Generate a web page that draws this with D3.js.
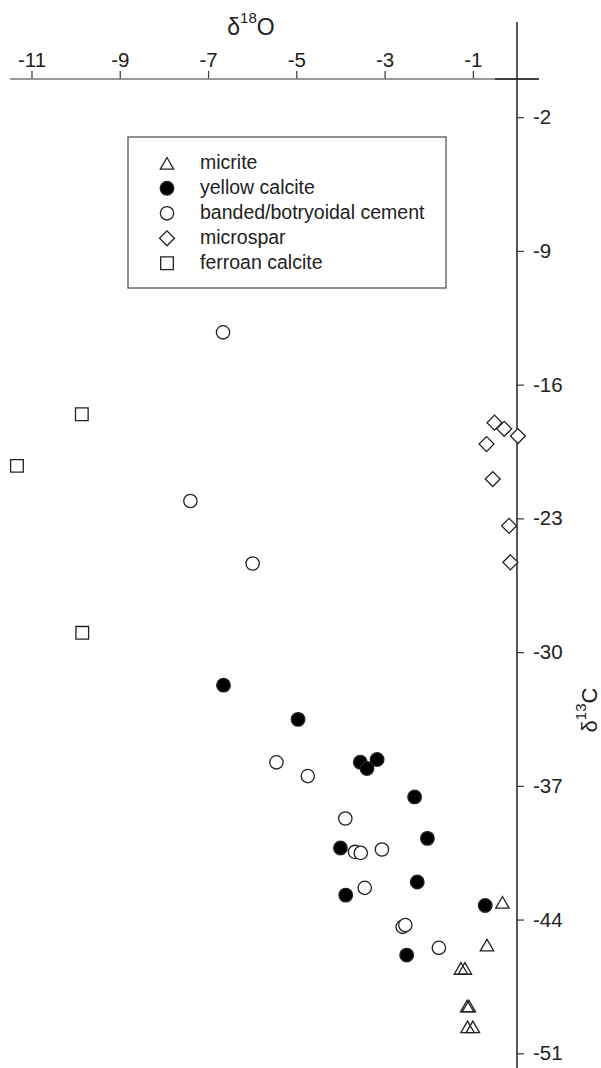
<!DOCTYPE html>
<html>
<head>
<meta charset="utf-8">
<script src="https://cdn.jsdelivr.net/npm/d3@7"></script>
<style>
body { margin: 0; background: #fff; }
svg text { font-family: "Liberation Sans", Arial, sans-serif; fill: #222; }
</style>
</head>
<body>
<svg id="chart"></svg>
<script>
var width = 601,
    height = 1068;

// data: [d18O, d13C]
var micrite = [[-0.33,-43.1],[-0.68,-45.34],[-1.27,-46.56],[-1.18,-46.56],[-1.13,-48.53],[-1.09,-48.53],[-1.12,-49.62],[-1.0,-49.62]];
var yellowCalcite = [[-6.65,-31.73],[-4.96,-33.52],[-3.55,-35.76],[-3.4,-36.09],[-3.17,-35.62],[-2.32,-37.58],[-2.03,-39.75],
    [-4.0,-40.25],[-2.26,-42.03],[-3.88,-42.72],[-0.72,-43.26],[-2.5,-45.86]];
var bandedCement = [[-6.66,-13.26],[-7.4,-22.09],[-5.99,-25.36],[-5.45,-35.77],[-4.74,-36.49],[-3.89,-38.71],[-3.67,-40.46],
    [-3.54,-40.51],[-3.06,-40.33],[-3.45,-42.34],[-2.59,-44.38],[-2.53,-44.29],[-1.77,-45.48]];
var microspar = [[-0.51,-17.99],[-0.29,-18.31],[0.02,-18.69],[-0.69,-19.11],[-0.55,-20.94],[-0.18,-23.39],[-0.15,-25.3]];
var ferroanCalcite = [[-9.86,-17.55],[-11.33,-20.25],[-9.85,-28.99]];

var xTicks = [-11, -9, -7, -5, -3, -1];
var yTicks = [-2, -9, -16, -23, -30, -37, -44, -51];
var legendLabels = ["micrite", "yellow calcite", "banded/botryoidal cement", "microspar", "ferroan calcite"];

var x = d3.scaleLinear().domain([-11, 0]).range([31.5, 517]);
var y = d3.scaleLinear().domain([0, -51]).range([79, 1053.3]);

var svg = d3.select("#chart").attr("width", width).attr("height", height);

// marker styles
var series = [
    { data: micrite, type: d3.symbolTriangle, size: 78, fill: "none", rot: 0, dy: 1.9 },
    { data: yellowCalcite, type: d3.symbolCircle, size: 145, fill: "#000", rot: 0, dy: 0 },
    { data: bandedCement, type: d3.symbolCircle, size: 140, fill: "#fff", rot: 0, dy: 0 },
    { data: microspar, type: d3.symbolSquare, size: 112, fill: "#fff", rot: 45, dy: 0 },
    { data: ferroanCalcite, type: d3.symbolSquare, size: 160, fill: "#fff", rot: 0, dy: 0 }
];

// axes
var xAxis = svg.append("g")
    .attr("transform", "translate(0," + y(0) + ")")
    .call(d3.axisTop(x).tickValues(xTicks).tickSize(8).tickPadding(4)
        .tickFormat(function(d) { return d.toString(); }));
xAxis.select(".domain").remove();
xAxis.selectAll(".tick line").attr("stroke", "#444").attr("stroke-width", 1.3);
xAxis.selectAll(".tick text").style("font-size", "20.5px").attr("fill", "#222");

var yAxis = svg.append("g")
    .attr("transform", "translate(" + x(0) + ",0)")
    .call(d3.axisRight(y).tickValues(yTicks).tickSize(7).tickPadding(9)
        .tickFormat(function(d) { return d.toString(); }));
yAxis.select(".domain").remove();
yAxis.selectAll(".tick line").attr("stroke", "#444").attr("stroke-width", 1.3);
yAxis.selectAll(".tick text").style("font-size", "20.5px").attr("fill", "#222");

svg.append("line")
    .attr("x1", 10).attr("x2", 539)
    .attr("y1", y(0)).attr("y2", y(0))
    .style("stroke", "#777").style("stroke-width", 1.6);
svg.append("line")
    .attr("x1", 495).attr("x2", 539)
    .attr("y1", y(0)).attr("y2", y(0))
    .style("stroke", "#222").style("stroke-width", 1.6);
svg.append("line")
    .attr("x1", x(0)).attr("x2", x(0))
    .attr("y1", 22).attr("y2", height)
    .style("stroke", "#222").style("stroke-width", 1.5);

// axis titles
var xt = svg.append("text").attr("x", 251).attr("y", 35)
    .attr("text-anchor", "middle").style("font-size", "23px");
xt.append("tspan").text("δ");
xt.append("tspan").text("18").style("font-size", "15px").attr("dy", -12);
xt.append("tspan").text("O").attr("dy", 12);

var yt = svg.append("text")
    .attr("transform", "translate(597,710) rotate(-90)")
    .attr("text-anchor", "middle").style("font-size", "22px");
yt.append("tspan").text("δ");
yt.append("tspan").text("13").style("font-size", "15px").attr("dy", -11);
yt.append("tspan").text("C").attr("dy", 11);

// points
series.forEach(function(s) {
    svg.append("g").selectAll("path").data(s.data)
        .enter()
        .append("path")
            .attr("d", d3.symbol().type(s.type).size(s.size))
            .attr("transform", function(d) {
                return "translate(" + x(d[0]) + "," + (y(d[1]) + s.dy) + ") rotate(" + s.rot + ")";
            })
            .style("fill", s.fill)
            .style("stroke", "#222")
            .style("stroke-width", 1.3);
});

// legend
var legend = svg.append("g");
legend.append("rect")
    .attr("x", 128).attr("y", 137)
    .attr("width", 318).attr("height", 151)
    .style("fill", "#fff").style("stroke", "#555").style("stroke-width", 1.3);
legendLabels.forEach(function(label, i) {
    var s = series[i];
    var ly = 163.3 + i * 25;
    legend.append("path")
        .attr("d", d3.symbol().type(s.type).size(s.size))
        .attr("transform", "translate(167," + (ly + s.dy) + ") rotate(" + s.rot + ")")
        .style("fill", s.fill).style("stroke", "#222").style("stroke-width", 1.3);
    legend.append("text")
        .attr("x", 200).attr("y", ly + 6)
        .style("font-size", "19.5px")
        .text(label);
});
</script>
</body>
</html>
